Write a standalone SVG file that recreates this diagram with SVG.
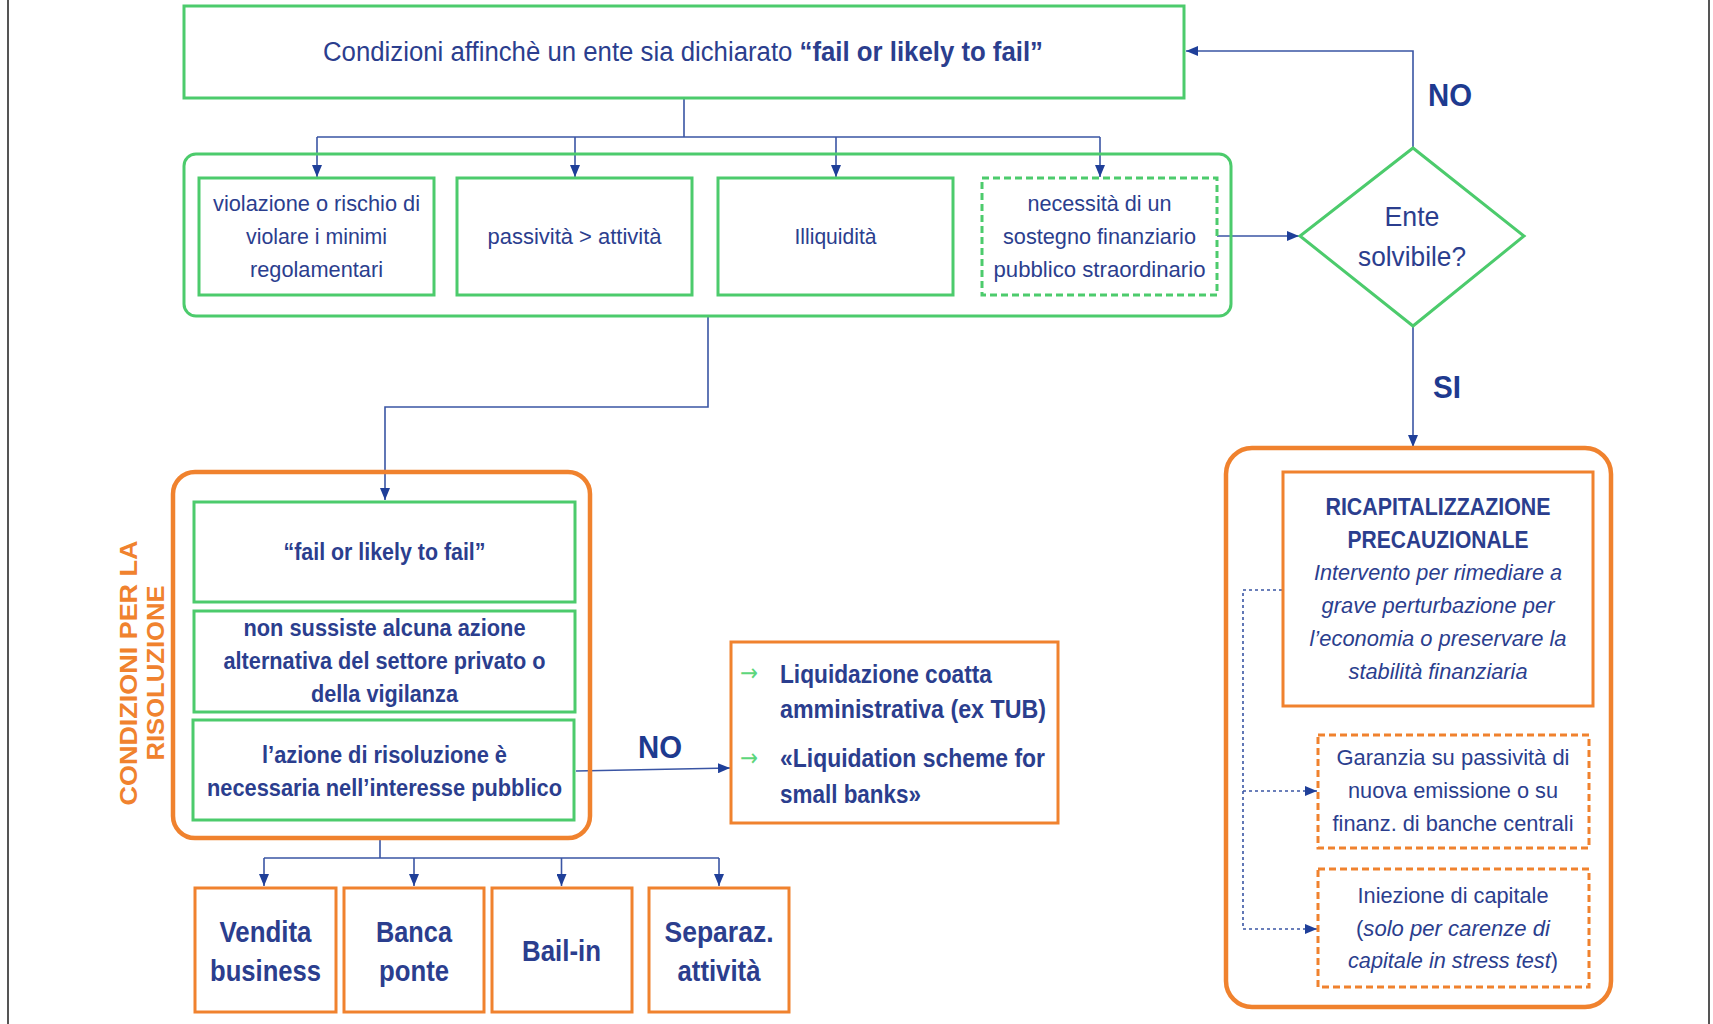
<svg xmlns="http://www.w3.org/2000/svg" width="1713" height="1024" viewBox="0 0 1713 1024">
<defs>
<style>
text{font-family:"Liberation Sans",Arial,sans-serif;fill:#2B3E8E;text-anchor:middle}
.b{font-weight:bold}
.i{font-style:italic}
.g{fill:none;stroke:#4CCB6C;stroke-width:3}
.gd{fill:none;stroke:#4CCB6C;stroke-width:3;stroke-dasharray:7 4}
.o{fill:none;stroke:#F0822E;stroke-width:3}
.oc{fill:none;stroke:#F0822E;stroke-width:4.5}
.od{fill:none;stroke:#F0822E;stroke-width:3;stroke-dasharray:7 4}
.c{fill:none;stroke:#3A55A4;stroke-width:1.6}
.cd{fill:none;stroke:#3A55A4;stroke-width:1.6;stroke-dasharray:3 3}
.s22{font-size:22px}
.s23{font-size:23px}
.s28{font-size:28px}
.s30{font-size:30px}
.lab{font-size:32px;font-weight:bold;fill:#1E3A8F}
.ot{fill:#F0822E;font-size:24px;font-weight:bold}
.ga{fill:#5DD67C;font-family:"DejaVu Sans",sans-serif;font-size:24px}
</style>
<marker id="ar" viewBox="0 0 12 10" refX="12" refY="5" markerWidth="12" markerHeight="10" markerUnits="userSpaceOnUse" orient="auto">
<path d="M0 0 L12 5 L0 10 Z" fill="#1F3F99"/>
</marker>
</defs>
<rect width="1713" height="1024" fill="#FFFFFF"/>
<line x1="8" y1="0" x2="8" y2="1024" stroke="#555" stroke-width="2"/>
<line x1="1709" y1="0" x2="1709" y2="1024" stroke="#555" stroke-width="2"/>

<g id="connectors">
<path class="c" d="M684 98 V137 M317 137 H1100"/>
<path class="c" d="M317 137 V177" marker-end="url(#ar)"/>
<path class="c" d="M575 137 V177" marker-end="url(#ar)"/>
<path class="c" d="M836 137 V177" marker-end="url(#ar)"/>
<path class="c" d="M1100 137 V177" marker-end="url(#ar)"/>
<path class="c" d="M1217 236 H1299" marker-end="url(#ar)"/>
<path class="c" d="M1413 148 V51 H1186" marker-end="url(#ar)"/>
<path class="c" d="M1413 326 V447" marker-end="url(#ar)"/>
<path class="c" d="M708 316 V407 H385 V500" marker-end="url(#ar)"/>
<path class="c" d="M576 771 L730 768" marker-end="url(#ar)"/>
<path class="c" d="M380 838 V858 M264 858 H719"/>
<path class="c" d="M264 858 V886" marker-end="url(#ar)"/>
<path class="c" d="M414 858 V886" marker-end="url(#ar)"/>
<path class="c" d="M561.5 858 V886" marker-end="url(#ar)"/>
<path class="c" d="M719 858 V886" marker-end="url(#ar)"/>
<path class="cd" d="M1282 590 H1243 V929 H1317" marker-end="url(#ar)"/>
<path class="cd" d="M1243 791 H1317" marker-end="url(#ar)"/>
</g>

<g id="title">
<rect class="g" x="184" y="6" width="1000" height="92"/>
<text x="683" y="61" font-size="27" textLength="720" lengthAdjust="spacingAndGlyphs">Condizioni affinchè un ente sia dichiarato <tspan class="b">“fail or likely to fail”</tspan></text>
</g>

<g id="conditions">
<rect class="g" x="184" y="154" width="1047" height="162" rx="12"/>
</g>
<g id="cond1">
<rect class="g" x="199" y="178" width="235" height="117"/>
<text class="s22" x="316.5" y="211" textLength="207" lengthAdjust="spacingAndGlyphs">violazione o rischio di</text>
<text class="s22" x="316.5" y="244" textLength="141" lengthAdjust="spacingAndGlyphs">violare i minimi</text>
<text class="s22" x="316.5" y="277" textLength="133" lengthAdjust="spacingAndGlyphs">regolamentari</text>
</g>
<g id="cond2">
<rect class="g" x="457" y="178" width="235" height="117"/>
<text class="s22" x="574.5" y="244" textLength="174" lengthAdjust="spacingAndGlyphs">passività &gt; attività</text>
</g>
<g id="cond3">
<rect class="g" x="718" y="178" width="235" height="117"/>
<text class="s22" x="835.5" y="244" textLength="82" lengthAdjust="spacingAndGlyphs">Illiquidità</text>
</g>
<g id="cond4">
<rect class="gd" x="982" y="178" width="235" height="117"/>
<text class="s22" x="1099.5" y="211" textLength="144" lengthAdjust="spacingAndGlyphs">necessità di un</text>
<text class="s22" x="1099.5" y="244" textLength="193" lengthAdjust="spacingAndGlyphs">sostegno finanziario</text>
<text class="s22" x="1099.5" y="277" textLength="212" lengthAdjust="spacingAndGlyphs">pubblico straordinario</text>
</g>

<g id="decision">
<polygon class="g" points="1413,148 1524,236 1413,326 1300,236"/>
<text class="s28" x="1412" y="226" textLength="55" lengthAdjust="spacingAndGlyphs">Ente</text>
<text class="s28" x="1412" y="266" textLength="108" lengthAdjust="spacingAndGlyphs">solvibile?</text>
</g>
<text class="lab" x="1450" y="106" textLength="44" lengthAdjust="spacingAndGlyphs">NO</text>
<text class="lab" x="1447" y="398" textLength="28" lengthAdjust="spacingAndGlyphs">SI</text>
<text class="lab" x="660" y="758" textLength="44" lengthAdjust="spacingAndGlyphs">NO</text>

<g id="resolution-conditions">
<rect class="oc" x="173" y="472" width="417" height="366" rx="22"/>
<text class="ot" transform="translate(137,673) rotate(-90)" x="0" y="0" textLength="265" lengthAdjust="spacingAndGlyphs">CONDIZIONI  PER LA</text>
<text class="ot" transform="translate(164,673) rotate(-90)" x="0" y="0" textLength="175" lengthAdjust="spacingAndGlyphs">RISOLUZIONE</text>
</g>
<g id="rc1">
<rect class="g" x="194" y="502" width="381" height="100"/>
<text class="s23 b" x="384.5" y="560" textLength="202" lengthAdjust="spacingAndGlyphs">“fail or likely to fail”</text>
</g>
<g id="rc2">
<rect class="g" x="194" y="611" width="381" height="101"/>
<text class="s23 b" x="384.5" y="636" textLength="282" lengthAdjust="spacingAndGlyphs">non sussiste alcuna azione</text>
<text class="s23 b" x="384.5" y="669" textLength="322" lengthAdjust="spacingAndGlyphs">alternativa del settore privato o</text>
<text class="s23 b" x="384.5" y="702" textLength="147" lengthAdjust="spacingAndGlyphs">della vigilanza</text>
</g>
<g id="rc3">
<rect class="g" x="193" y="720" width="381" height="100"/>
<text class="s23 b" x="384.5" y="763" textLength="245" lengthAdjust="spacingAndGlyphs">l’azione di risoluzione è</text>
<text class="s23 b" x="384.5" y="796" textLength="355" lengthAdjust="spacingAndGlyphs">necessaria nell’interesse pubblico</text>
</g>

<g id="liquidation">
<rect class="o" x="731" y="642" width="327" height="181"/>
<text class="ga" x="749" y="681" textLength="18" lengthAdjust="spacingAndGlyphs">→</text>
<text class="ga" x="749" y="766" textLength="18" lengthAdjust="spacingAndGlyphs">→</text>
<text class="b" style="text-anchor:start" font-size="25" x="780" y="683" textLength="212" lengthAdjust="spacingAndGlyphs">Liquidazione  coatta</text>
<text class="b" style="text-anchor:start" font-size="25" x="780" y="718" textLength="266" lengthAdjust="spacingAndGlyphs">amministrativa  (ex TUB)</text>
<text class="b" style="text-anchor:start" font-size="25" x="780" y="767" textLength="265" lengthAdjust="spacingAndGlyphs">«Liquidation  scheme for</text>
<text class="b" style="text-anchor:start" font-size="25" x="780" y="803" textLength="141" lengthAdjust="spacingAndGlyphs">small banks»</text>
</g>

<g id="vendita">
<rect class="o" x="195" y="888" width="141" height="124"/>
<text class="s30 b" x="265.5" y="942" textLength="92" lengthAdjust="spacingAndGlyphs">Vendita</text>
<text class="s30 b" x="265.5" y="981" textLength="111" lengthAdjust="spacingAndGlyphs">business</text>
</g>
<g id="banca">
<rect class="o" x="344" y="888" width="140" height="124"/>
<text class="s30 b" x="414" y="942" textLength="76" lengthAdjust="spacingAndGlyphs">Banca</text>
<text class="s30 b" x="414" y="981" textLength="70" lengthAdjust="spacingAndGlyphs">ponte</text>
</g>
<g id="bailin">
<rect class="o" x="492" y="888" width="140" height="124"/>
<text class="s30 b" x="561.5" y="961" textLength="79" lengthAdjust="spacingAndGlyphs">Bail-in</text>
</g>
<g id="separaz">
<rect class="o" x="649" y="888" width="140" height="124"/>
<text class="s30 b" x="719" y="942" textLength="109" lengthAdjust="spacingAndGlyphs">Separaz.</text>
<text class="s30 b" x="719" y="981" textLength="83" lengthAdjust="spacingAndGlyphs">attività</text>
</g>

<g id="precautionary">
<rect class="oc" x="1226" y="448" width="385" height="559" rx="26"/>
</g>
<g id="ricap">
<rect class="o" x="1283" y="472" width="310" height="234"/>
<text class="s23 b" x="1438" y="515" textLength="225" lengthAdjust="spacingAndGlyphs">RICAPITALIZZAZIONE</text>
<text class="s23 b" x="1438" y="548" textLength="181" lengthAdjust="spacingAndGlyphs">PRECAUZIONALE</text>
<text class="s22 i" x="1438" y="580" textLength="248" lengthAdjust="spacingAndGlyphs">Intervento per rimediare a</text>
<text class="s22 i" x="1438" y="613" textLength="233" lengthAdjust="spacingAndGlyphs">grave perturbazione per</text>
<text class="s22 i" x="1438" y="646" textLength="257" lengthAdjust="spacingAndGlyphs">l’economia o preservare la</text>
<text class="s22 i" x="1438" y="679" textLength="179" lengthAdjust="spacingAndGlyphs">stabilità finanziaria</text>
</g>
<g id="garanzia">
<rect class="od" x="1318" y="735" width="271" height="113"/>
<text class="s22" x="1453" y="765" textLength="233" lengthAdjust="spacingAndGlyphs">Garanzia su passività di</text>
<text class="s22" x="1453" y="798" textLength="210" lengthAdjust="spacingAndGlyphs">nuova emissione o su</text>
<text class="s22" x="1453" y="831" textLength="241" lengthAdjust="spacingAndGlyphs">finanz. di banche centrali</text>
</g>
<g id="iniezione">
<rect class="od" x="1318" y="869" width="271" height="118"/>
<text class="s22" x="1453" y="903" textLength="191" lengthAdjust="spacingAndGlyphs">Iniezione di capitale</text>
<text class="s22" x="1453" y="936" textLength="194" lengthAdjust="spacingAndGlyphs">(<tspan class="i">solo per carenze di</tspan></text>
<text class="s22" x="1453" y="968" textLength="210" lengthAdjust="spacingAndGlyphs"><tspan class="i">capitale in stress test</tspan>)</text>
</g>
</svg>
